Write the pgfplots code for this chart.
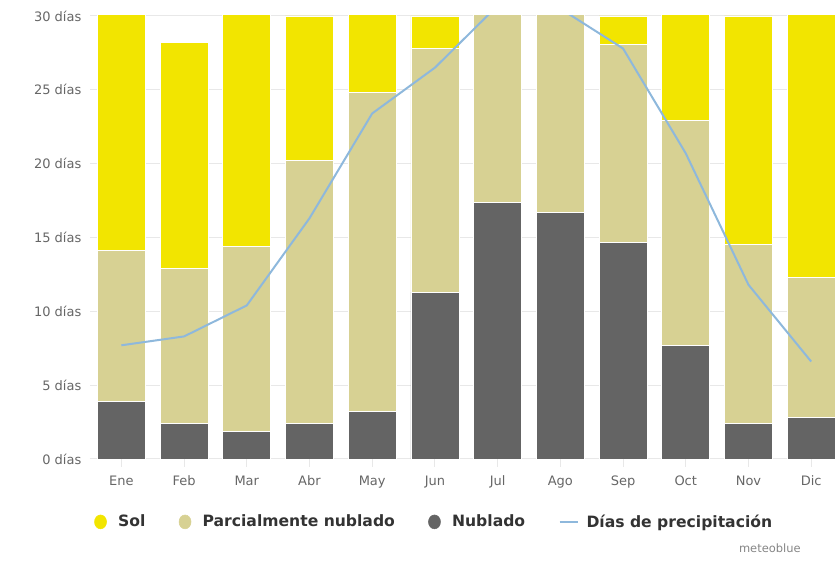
\documentclass[border=0pt]{standalone}
\usepackage{fontspec}
\setmainfont{DejaVu Sans}
\usepackage{pgfplots}
\pgfplotsset{compat=1.18}
\definecolor{solc}{HTML}{F2E500}
\definecolor{parc}{HTML}{D7D193}
\definecolor{nubc}{HTML}{646464}
\definecolor{prec}{HTML}{8EB8DC}
\definecolor{gridc}{HTML}{E8E8E8}
\definecolor{tickc}{HTML}{666666}
\definecolor{legc}{HTML}{333333}
\begin{document}
\begin{tikzpicture}
\path[use as bounding box] (-67.5pt,-80.25pt) rectangle (558.75pt,344.25pt);
\begin{axis}[
  scale only axis, width=558.75pt, height=332.25pt,
  at={(0pt,0pt)}, anchor=south west,
  xmin=-0.5, xmax=11.38, ymin=0, ymax=30,
  ybar stacked, reverse stacked plots=false, bar width=36pt,
  xtick={0,...,11},
  xticklabels={Ene,Feb,Mar,Abr,May,Jun,Jul,Ago,Sep,Oct,Nov,Dic},
  ytick={0,5,...,30},
  yticklabels={0 días,5 días,10 días,15 días,20 días,25 días,30 días},
  ymajorgrids, grid style={draw=gridc, line width=0.75pt},
  axis x line*=bottom, axis y line*=left,
  y axis line style={draw=none}, ytick style={draw=none},
  x axis line style={draw=gridc, line width=0.75pt},
  xtick style={draw=gridc, line width=0.75pt},
  xtick align=outside, major tick length=6pt,
  tick label style={font=\fontsize{9.75}{12}\selectfont, text=tickc},
  yticklabel style={xshift=-3pt},
  xticklabel style={yshift=-3pt},
  legend style={draw=none, fill=none, at={(0.0,-0.142)}, anchor=west,
    font=\fontsize{11.7}{13}\selectfont\bfseries, text=legc,
    legend columns=4,
    /tikz/every even column/.append style={column sep=23pt}},
  legend cell align=left,
]
\addplot[fill=nubc, draw=white, line width=0.6pt, forget plot] coordinates {
 (0,3.9) (1,2.4) (2,1.9) (3,2.4) (4,3.2) (5,11.3) (6,17.4) (7,16.7) (8,14.7) (9,7.7) (10,2.4) (11,2.85)};
\addplot[fill=parc, draw=white, line width=0.6pt, forget plot] coordinates {
 (0,10.2) (1,10.5) (2,12.5) (3,17.8) (4,21.6) (5,16.5) (6,13.6) (7,14.3) (8,13.4) (9,15.2) (10,12.1) (11,9.45)};
\addplot[fill=solc, draw=white, line width=0.6pt, forget plot] coordinates {
 (0,16.9) (1,15.3) (2,16.6) (3,9.8) (4,6.2) (5,2.2) (6,0) (7,0) (8,1.9) (9,8.1) (10,15.5) (11,18.7)};
\addplot[stack plots=false, sharp plot, no markers, draw=prec, line width=1.5pt, forget plot] coordinates {
 (0,7.7) (1,8.3) (2,10.4) (3,16.3) (4,23.4) (5,26.5) (6,30.7) (7,30.5) (8,27.8) (9,20.7) (10,11.8) (11,6.6)};
\addlegendimage{legend image code/.code={\fill[solc] (4.5pt,0pt) ellipse (4.5pt and 5.2pt); \path (15.5pt,0pt);}}
\addlegendentry{Sol}
\addlegendimage{legend image code/.code={\fill[parc] (4.5pt,0pt) ellipse (4.5pt and 5.2pt); \path (15.5pt,0pt);}}
\addlegendentry{Parcialmente nublado}
\addlegendimage{legend image code/.code={\fill[nubc] (4.5pt,0pt) ellipse (4.5pt and 5.2pt); \path (15.5pt,0pt);}}
\addlegendentry{Nublado}
\addlegendimage{legend image code/.code={\draw[prec, line width=1.6pt] (0pt,0pt) -- (13.5pt,0pt); \path (18pt,0pt);}}
\addlegendentry{Días de precipitación}
\end{axis}
\node[anchor=east, text=tickc!80, font=\fontsize{8.6}{11}\selectfont] at (536.5pt,-66.75pt) {meteoblue};
\end{tikzpicture}
\end{document}
